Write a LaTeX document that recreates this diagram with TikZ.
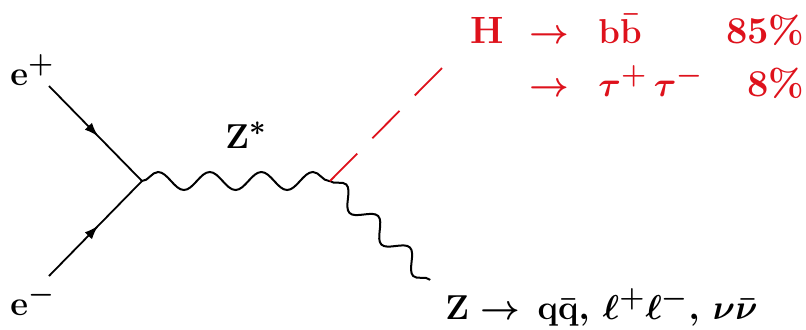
\documentclass[tikz,border=0pt]{standalone}
\usepackage{amsmath,amssymb}
\usepackage{tikz}
\usetikzlibrary{arrows.meta,decorations.pathmorphing,decorations.markings}
\definecolor{hred}{RGB}{222,18,28}

\begin{document}
\begin{tikzpicture}[x=0.5pt,y=0.5pt,
  fermion/.style={line width=0.9pt, postaction={decorate},
    decoration={markings, mark=at position 0.53 with {\arrow{Latex[length=7pt,width=5pt]}}}},
  zboson/.style={line width=1pt, decorate, decoration={snake, amplitude=4.5pt, segment length=#1}},
  higgs/.style={hred, line width=0.9pt, dash pattern=on 19.3pt off 10.8pt},
  lbl/.style={inner sep=0pt, anchor=base west, font=\fontsize{19}{23}\selectfont\bfseries\boldmath}]
\useasboundingbox (0,0) rectangle (806,329);
\coordinate (v1) at (142,148);
\coordinate (v2) at (330,148);
\coordinate (ep) at (49,243);
\coordinate (em) at (49,53);
\coordinate (hend) at (442,261);
\coordinate (zend) at (430,49);
\draw[fermion] (ep) -- (v1);
\draw[fermion] (em) -- (v1);
\draw[zboson=25.8pt] (v1) -- (v2);
\draw[zboson=22.4pt] (v2) -- (zend);
\draw[higgs] (v2) -- (hend);
\node[lbl] (eplus) at (10,244) {$\mathbf{e}^{+}$};
\node[lbl] (eminus) at (10,14) {$\mathbf{e}^{-}$};
\node[lbl] (zstar) at (225,181) {$\mathbf{Z}^{*}$};
% Higgs decays
\node[lbl, text=hred] (hname) at (470,286) {H};
\node[lbl, text=hred] (arr1) at (529,286) {$\rightarrow$};
\node[lbl, text=hred] (bb) at (598,286) {$\mathbf{b\bar{b}}$};
\node[lbl, text=hred, anchor=base east] (br1) at (805,286) {85\%};
\node[lbl, text=hred] (arr2) at (529,233) {$\rightarrow$};
\node[lbl, text=hred] (tautau) at (598,233) {$\tau^{+}\,\tau^{-}$};
\node[lbl, text=hred, anchor=base east] (br2) at (805,233) {8\%};
% Z decays
\node[lbl] (zdecay) at (445,10) {$\mathbf{Z}\rightarrow\,\mathbf{q\bar{q}},\,\ell^{+}\ell^{-},\,\nu\bar{\nu}$};
\end{tikzpicture}
\end{document}
